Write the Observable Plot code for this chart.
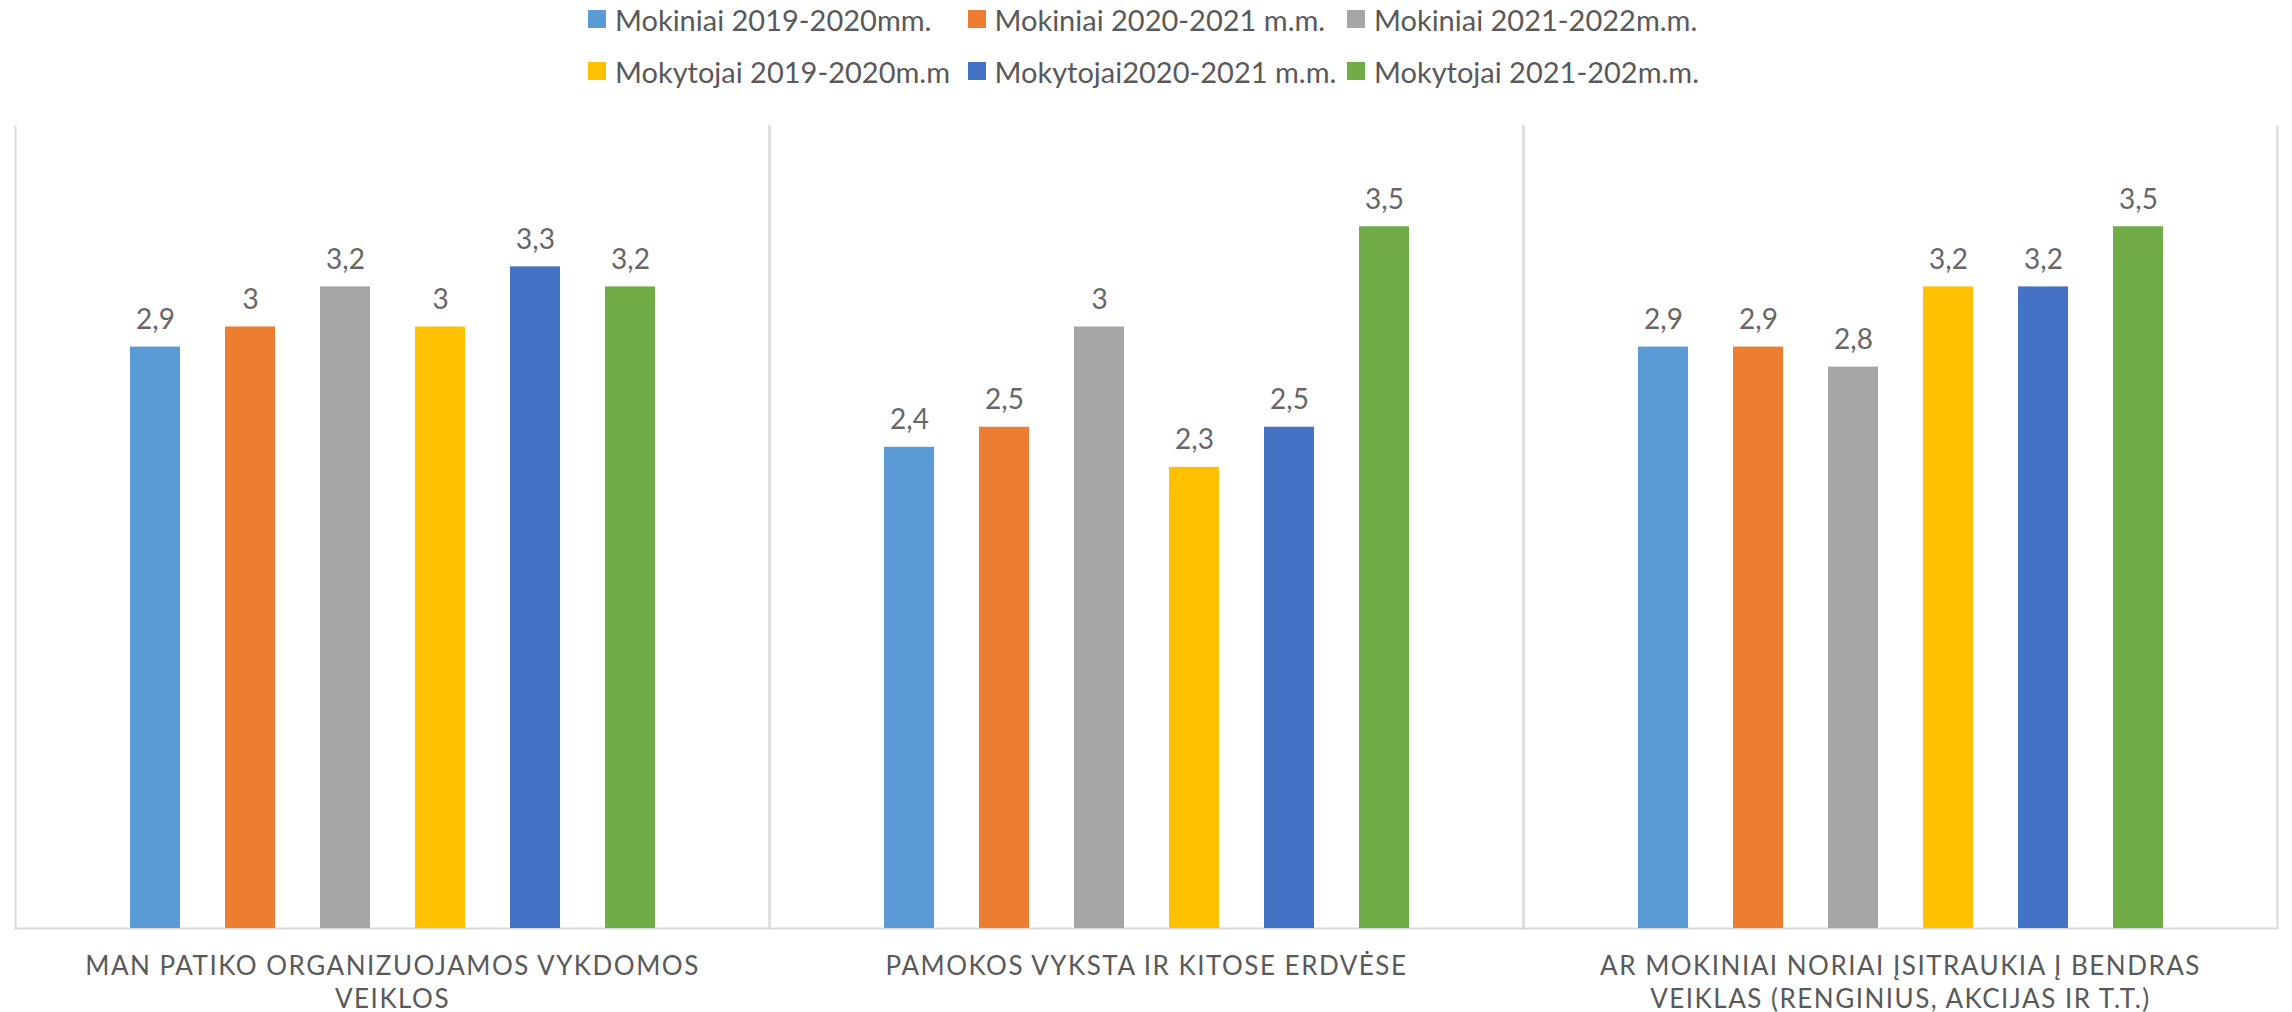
<!DOCTYPE html>
<html><head><meta charset="utf-8">
<script src="https://cdn.jsdelivr.net/npm/d3@7"></script>
<script src="https://cdn.jsdelivr.net/npm/@observablehq/plot@0.6"></script>
<style>
body{margin:0;background:#fff;width:2292px;height:1012px;overflow:hidden;font-family:Lato,sans-serif;}
#legend{position:relative;height:100px;}
#legend .grid{position:absolute;left:588px;top:0;display:grid;grid-template-columns:repeat(3,379.5px);grid-auto-rows:38px;row-gap:14px;}
.item{display:flex;align-items:center;font-size:29px;color:#595959;white-space:nowrap;}
.sw{width:18px;height:18px;margin-right:9px;flex:none;}
g[aria-description="catlabels"]{letter-spacing:1.5px;}
</style></head><body>
<div id="legend"><div class="grid"></div></div><div id="chart"></div>
<script>
const categories = [
  "MAN PATIKO ORGANIZUOJAMOS VYKDOMOS\nVEIKLOS",
  "PAMOKOS VYKSTA IR KITOSE ERDVĖSE",
  "AR MOKINIAI NORIAI ĮSITRAUKIA Į BENDRAS\nVEIKLAS (RENGINIUS, AKCIJAS IR T.T.)"
];
const series = [
  "Mokiniai 2019-2020mm.",
  "Mokiniai 2020-2021 m.m.",
  "Mokiniai 2021-2022m.m.",
  "Mokytojai 2019-2020m.m",
  "Mokytojai2020-2021 m.m.",
  "Mokytojai 2021-202m.m."
];
const colors = ["#5B9BD5", "#ED7D31", "#A5A5A5", "#FFC000", "#4472C4", "#70AD47"];
const valuesVeiklos = [2.9, 3, 3.2, 3, 3.3, 3.2];
const valuesErdvese = [2.4, 2.5, 3, 2.3, 2.5, 3.5];
const valuesIsitraukia = [2.9, 2.9, 2.8, 3.2, 3.2, 3.5];
const valueSets = [valuesVeiklos, valuesErdvese, valuesIsitraukia];

const rows = [];
categories.forEach((c, i) => series.forEach((s, j) => rows.push({category: c, series: s, value: valueSets[i][j]})));

// legend
const grid = d3.select("#legend .grid");
series.forEach((s, j) => {
  const it = grid.append("div").attr("class", "item");
  it.append("div").attr("class", "sw").style("background", colors[j]);
  it.append("span").text(s);
});

const fmt = v => String(v).replace(".", ",");

const plot = Plot.plot({
  width: 2292, height: 912,
  marginTop: 26, marginBottom: 84, marginLeft: 14, marginRight: 14,
  fx: {domain: categories, padding: 0, axis: null},
  x: {domain: series, paddingInner: 0.474, paddingOuter: 1.167, axis: null},
  y: {domain: [0, 4], axis: null},
  color: {domain: series, range: colors},
  style: {fontFamily: "Lato, sans-serif", color: "#595959", background: "white", overflow: "visible"},
  marks: [
    Plot.frame({anchor: "left", stroke: "#d9d9d9", strokeWidth: 2}),
    Plot.frame({anchor: "right", stroke: "#d9d9d9", strokeWidth: 2}),
    Plot.ruleY([0], {stroke: "#d9d9d9", strokeWidth: 2}),
    Plot.barY(rows, {fx: "category", x: "series", y: "value", fill: "series"}),
    Plot.text(rows, {fx: "category", x: "series", y: "value", text: d => fmt(d.value), dy: -27, fill: "#666666", fontSize: 28}),
    Plot.text(categories, {fx: d => d, text: d => d, frameAnchor: "bottom", lineAnchor: "top", dy: 23, fontSize: 26, lineHeight: 1.27, fill: "#595959", ariaDescription: "catlabels"})
  ]
});
document.getElementById("chart").append(plot);
</script>
</body></html>
